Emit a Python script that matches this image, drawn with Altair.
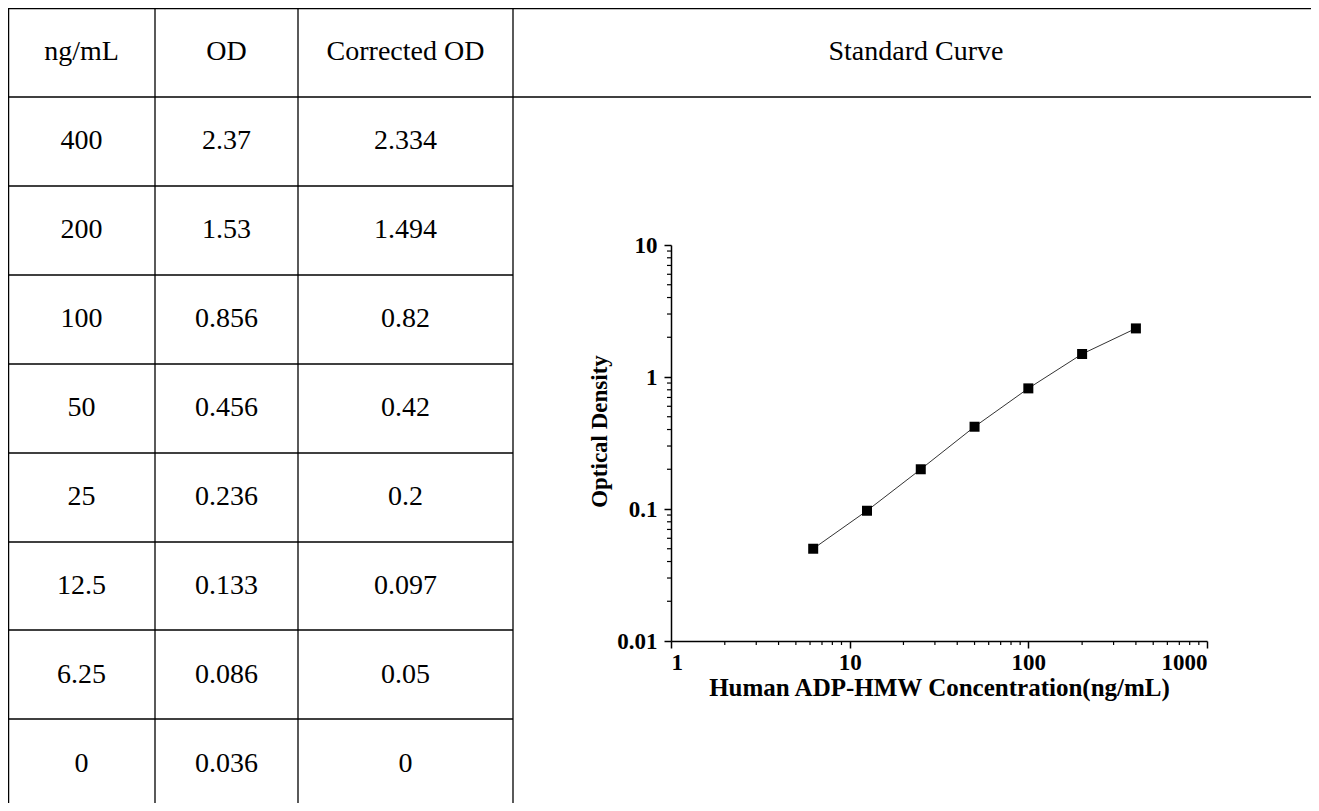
import altair as alt
import pandas as pd

# ---------------- data ----------------
headers = ["ng/mL", "OD", "Corrected OD"]
conc = [400, 200, 100, 50, 25, 12.5, 6.25, 0]
od = [2.37, 1.53, 0.856, 0.456, 0.236, 0.133, 0.086, 0.036]
corrected_od = [2.334, 1.494, 0.82, 0.42, 0.2, 0.097, 0.05, 0]
curve_title = "Standard Curve"
x_title = "Human ADP-HMW Concentration(ng/mL)"
y_title = "Optical Density"
x_major = [1, 10, 100, 1000]
y_major = [0.01, 0.1, 1, 10]
x_minor = [2, 3, 4, 5, 6, 7, 8, 9, 20, 30, 40, 50, 60, 70, 80, 90, 200, 300, 400, 500, 600, 700, 800, 900]
y_minor = [0.02, 0.03, 0.04, 0.05, 0.06, 0.07, 0.08, 0.09, 0.2, 0.3, 0.4, 0.5, 0.6, 0.7, 0.8, 0.9,
           2, 3, 4, 5, 6, 7, 8, 9]

# ---------------- layout ----------------
W, H = 536, 396
PL, PT = 663, 237           # plot origin inside the svg
TOTAL_W, TOTAL_H = 1303, 795
FONT = "Liberation Serif"

def px(page_x):
    return page_x - 8 - PL

def py(page_y):
    return page_y - 8 - PT

# ---------------- table ----------------
row_keys = ["r%d" % i for i in range(len(conc) + 1)]
table_df = pd.DataFrame({
    "row": row_keys,
    "c0": [headers[0]] + [str(v) for v in conc],
    "c1": [headers[1]] + [str(v) for v in od],
    "c2": [headers[2]] + [str(v) for v in corrected_od],
})
row_scale = alt.Scale(type="point", domain=row_keys, range=[py(8), py(808)], padding=0.5)
col_centers = [px((8 + 155) / 2), px((155 + 298) / 2), px((298 + 513) / 2)]

text_layers = []
for i, cx in enumerate(col_centers):
    text_layers.append(
        alt.Chart(table_df).mark_text(font=FONT, fontSize=28, color="black", baseline="middle", align="center")
        .encode(y=alt.Y("row:N", scale=row_scale, axis=None), x=alt.value(cx), text=alt.Text("c%d:N" % i))
    )

hdr = alt.Chart(pd.DataFrame({"t": [curve_title]})).mark_text(
    font=FONT, fontSize=28, color="black", baseline="middle", align="center"
).encode(x=alt.value(px((513 + 1319) / 2)), y=alt.value(py(52)), text="t:N")

dummy = pd.DataFrame({"a": [0]})
line_style = dict(color="black", strokeWidth=1.3)
rules = []
for xv in [8.6, 155, 298, 513]:
    rules.append(alt.Chart(dummy).mark_rule(**line_style).encode(
        x=alt.value(px(xv)), y=alt.value(py(8)), y2=alt.value(py(815))))
for yv in [8.6, 97]:
    rules.append(alt.Chart(dummy).mark_rule(**line_style).encode(
        x=alt.value(px(8)), x2=alt.value(px(1325)), y=alt.value(py(yv))))
for yv in [186, 275, 364, 453, 542, 630, 719]:
    rules.append(alt.Chart(dummy).mark_rule(**line_style).encode(
        x=alt.value(px(8)), x2=alt.value(px(513)), y=alt.value(py(yv))))

# ---------------- curve ----------------
curve_df = pd.DataFrame({"conc": [c for c in conc if c > 0],
                         "od": [v for c, v in zip(conc, corrected_od) if c > 0]})
x_scale = alt.Scale(type="log", domain=[1, 1000])
y_scale = alt.Scale(type="log", domain=[0.01, 10])
x_axis = alt.Axis(values=x_major, format="~g", title=x_title, titleFontSize=25, titlePadding=1,
                  labelPadding=3)
y_axis = alt.Axis(values=y_major, format="~g", title=y_title, titleFontSize=23, titlePadding=5,
                  labelPadding=7, titleY=186)

line = alt.Chart(curve_df).mark_line(color="#333333", strokeWidth=1).encode(
    x=alt.X("conc:Q", scale=x_scale, axis=x_axis),
    y=alt.Y("od:Q", scale=y_scale, axis=y_axis),
)
pts = alt.Chart(curve_df).mark_square(size=100, color="black", opacity=1).encode(
    x=alt.X("conc:Q", scale=x_scale, axis=x_axis),
    y=alt.Y("od:Q", scale=y_scale, axis=y_axis),
)
xm = alt.Chart(pd.DataFrame({"conc": x_minor})).mark_rule(color="black", strokeWidth=1.2).encode(
    x=alt.X("conc:Q", scale=x_scale, axis=x_axis), y=alt.value(H), y2=alt.value(H + 4))
ym = alt.Chart(pd.DataFrame({"od": y_minor})).mark_rule(color="black", strokeWidth=1.2).encode(
    y=alt.Y("od:Q", scale=y_scale, axis=y_axis), x=alt.value(-4), x2=alt.value(0))

curve = alt.layer(line, pts, xm, ym)

chart = alt.layer(*rules, *text_layers, hdr, curve).resolve_scale(
    x="independent", y="independent"
).properties(
    width=W, height=H,
    autosize=alt.AutoSizeParams(type="none"),
    padding={"left": PL, "top": PT, "right": TOTAL_W - PL - W, "bottom": TOTAL_H - PT - H},
    background="white",
).configure_view(strokeWidth=0).configure_axis(
    grid=False, domainColor="black", domainWidth=1.5, tickColor="black", tickWidth=1.5, tickSize=7,
    labelFont=FONT, labelFontWeight="bold", labelFontSize=23, labelColor="black",
    titleFont=FONT, titleFontWeight="bold", titleColor="black",
)

chart.save("out.html", embed_options={"renderer": "svg", "actions": False})
